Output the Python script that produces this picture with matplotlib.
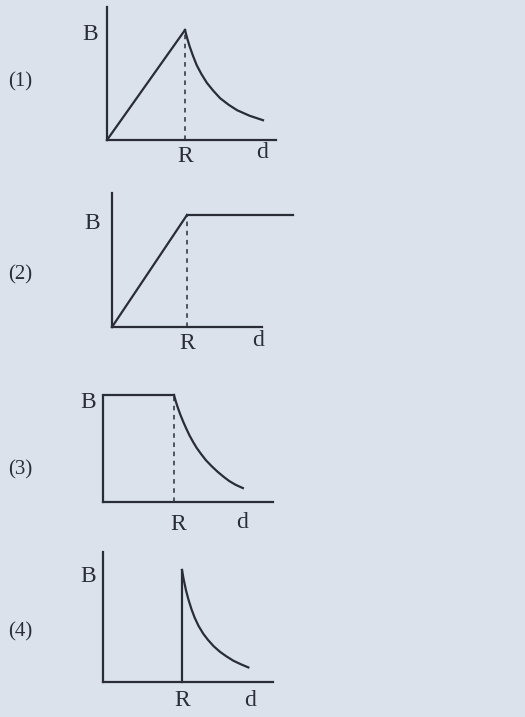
import matplotlib.pyplot as plt

# four sketches of B against d (d in units of R, B relative to value at R)
rise_d = [0.0, 1.0]
rise_b = [0.0, 1.0]

decay1_d = [1.0, 1.03, 1.06, 1.10, 1.15, 1.21, 1.28, 1.36, 1.45, 1.56, 1.67, 1.83, 2.0]
decay1_b = [1.0, 0.92, 0.85, 0.77, 0.68, 0.60, 0.52, 0.45, 0.38, 0.32, 0.27, 0.22, 0.18]

flat2_d = [1.0, 2.41]
flat2_b = [1.0, 1.0]

flat3_d = [0.0, 1.0]
flat3_b = [1.0, 1.0]
decay3_d = [1.0, 1.03, 1.06, 1.09, 1.13, 1.17, 1.22, 1.27, 1.32, 1.38, 1.45, 1.53, 1.61, 1.70, 1.78, 1.87, 1.97]
decay3_b = [1.0, 0.93, 0.87, 0.815, 0.75, 0.69, 0.62, 0.56, 0.505, 0.45, 0.39, 0.335, 0.285, 0.235, 0.195, 0.16, 0.13]

jump4_d = [1.0, 1.0]
jump4_b = [0.0, 1.0]
decay4_d = [1.0, 1.02, 1.05, 1.08, 1.12, 1.16, 1.21, 1.27, 1.33, 1.40, 1.48, 1.56, 1.65, 1.74, 1.84]
decay4_b = [1.0, 0.92, 0.82, 0.74, 0.65, 0.575, 0.50, 0.43, 0.375, 0.32, 0.27, 0.23, 0.19, 0.16, 0.13]

panel_names = ["(1)", "(2)", "(3)", "(4)"]

W, H = 525, 717
ink = "#2a2d36"
bg = "#dbe2eb"

plt.rcParams['font.family'] = ['Liberation Serif', 'DejaVu Serif']

fig = plt.figure(figsize=(W / 100, H / 100), dpi=100)
fig.patch.set_facecolor(bg)


def panel(left, base, right, top, r_px, h_px):
    # axes box given in picture pixels, scaled so that R = 1 and B(R) = 1
    ax = fig.add_axes([left / W, 1 - base / H, (right - left) / W, (base - top) / H])
    ax.set_xlim(0, (right - left) / r_px)
    ax.set_ylim(0, (base - top) / h_px)
    ax.patch.set_visible(False)
    for s in ["top", "right"]:
        ax.spines[s].set_visible(False)
    for s in ["left", "bottom"]:
        ax.spines[s].set_color(ink)
        ax.spines[s].set_linewidth(1.6)
    ax.set_xticks([])
    ax.set_yticks([])
    return ax


def label(x, y, s, size=17):
    fig.text(x / W, 1 - y / H, s, ha="center", va="center", fontsize=size, color=ink)


lw = 1.6

# (1)
ax1 = panel(107, 140, 276, 7, 78, 110)
ax1.plot(rise_d, rise_b, color=ink, lw=lw, clip_on=False)
ax1.plot(decay1_d, decay1_b, color=ink, lw=lw, clip_on=False)
ax1.plot([1, 1], [0, 1], color=ink, lw=1.1, ls=(0, (3, 3)))

# (2)
ax2 = panel(112, 327, 262, 193, 75, 112)
ax2.plot(rise_d, rise_b, color=ink, lw=lw, clip_on=False)
ax2.plot(flat2_d, flat2_b, color=ink, lw=lw, clip_on=False)
ax2.plot([1, 1], [0, 1], color=ink, lw=1.1, ls=(0, (3, 3)))

# (3)
ax3 = panel(103, 502, 273, 396, 71, 107)
ax3.plot(flat3_d, flat3_b, color=ink, lw=lw, clip_on=False)
ax3.plot(decay3_d, decay3_b, color=ink, lw=lw, clip_on=False)
ax3.plot([1, 1], [0, 1], color=ink, lw=1.1, ls=(0, (3, 3)))

# (4)
ax4 = panel(103, 682, 273, 552, 79, 112)
ax4.plot(jump4_d, jump4_b, color=ink, lw=lw, clip_on=False)
ax4.plot(decay4_d, decay4_b, color=ink, lw=lw, clip_on=False)

label_pos = [
    ((90, 35), (20, 82), (185, 157), (262, 152)),
    ((92, 224), (20, 275), (187, 343), (258, 340)),
    ((88, 403), (20, 470), (178, 525), (242, 522)),
    ((88, 577), (20, 632), (182, 700), (250, 700)),
]
for name, (pb, pn, pr, pd) in zip(panel_names, label_pos):
    label(*pb, "B")
    label(*pn, name, size=15)
    label(*pr, "R")
    label(*pd, "d")

fig.savefig("out.png", dpi=100, facecolor=bg)
